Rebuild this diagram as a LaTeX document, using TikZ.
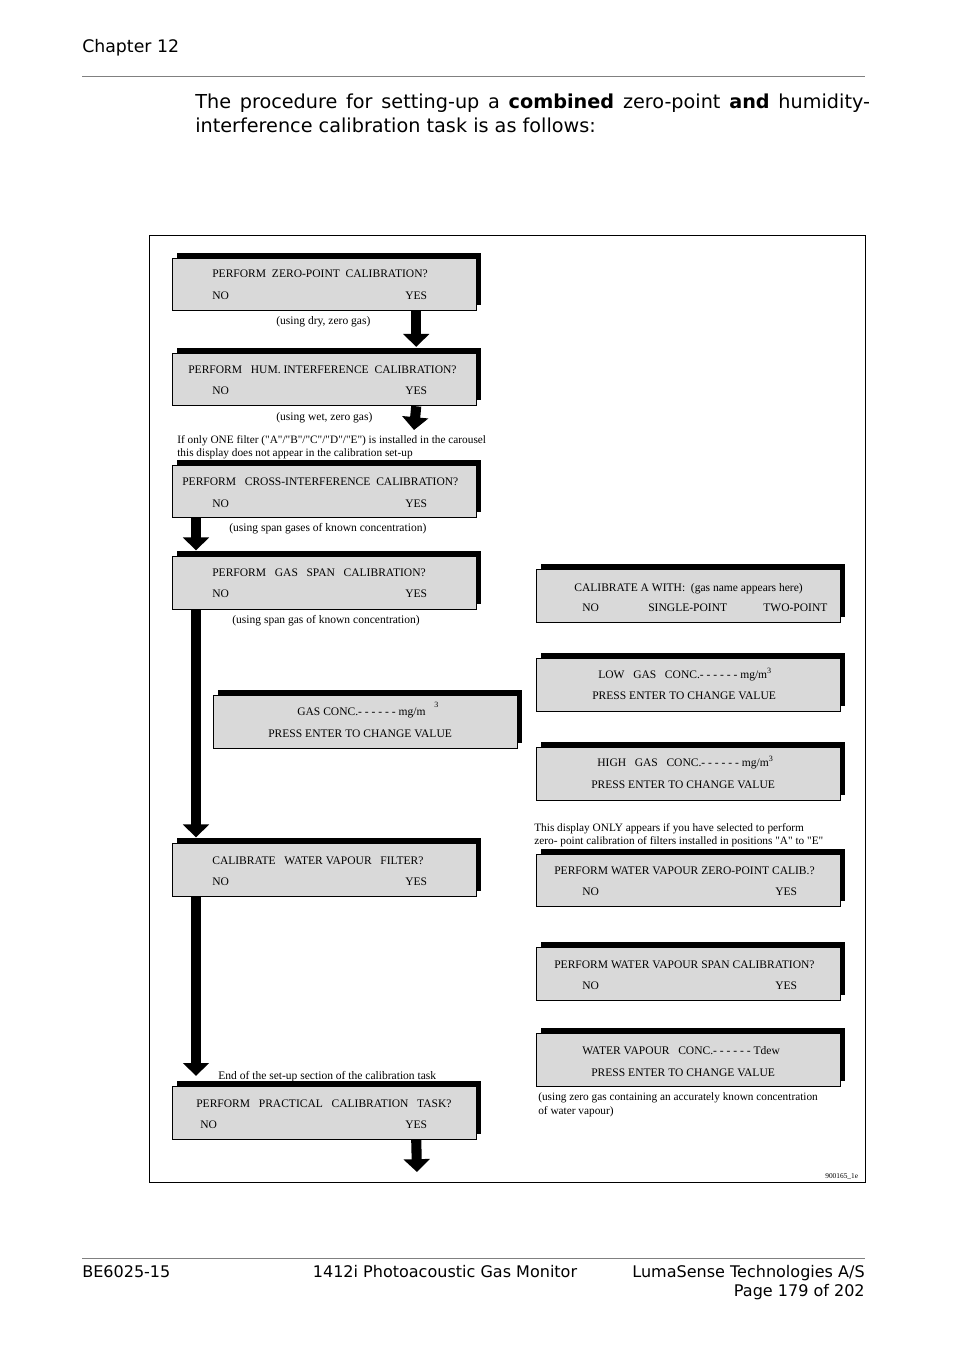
\documentclass[tikz,border=0pt]{standalone}
\usepackage{fontspec}
\setmainfont{DejaVu Sans}
\newfontfamily\dispfont{Liberation Serif}
\usetikzlibrary{arrows.meta,shadows}
\definecolor{dispgray}{RGB}{217,217,217}

\begin{document}
\begin{tikzpicture}[x=0.624pt,y=-0.624pt,
    dispbox/.style={draw,line width=0.6pt,fill=dispgray,inner sep=0pt,
        minimum width=189.7pt,minimum height=32.8pt,
        general shadow={fill=black,shadow xshift=3.1pt,shadow yshift=3.4pt}},
    disptext/.style={font=\dispfont\fontsize{7.2}{8.2}\selectfont,inner sep=0pt,anchor=base west,yshift=-0.5pt},
    notetext/.style={disptext,font=\dispfont\fontsize{7.05}{8.2}\selectfont,align=left,anchor=north west},
    bigarrow/.style={line width=6.3pt,-{Triangle[width=16pt,length=8pt]},shorten >=3.7pt},
    pagetext/.style={inner sep=0pt,anchor=base west}]
    \useasboundingbox (0,0) rectangle (954,1350);

    % page header and footer
    \node[pagetext,font=\fontsize{10.8}{13}\selectfont] (chap) at (82,53) {Chapter 12};
    \draw[gray,line width=0.6pt] (82,76)--(865,76);
    \node[pagetext,font=\fontsize{12}{15}\selectfont] (intro1) at (195,109)
        {\makebox[421pt][s]{The procedure for setting-up a \textbf{combined} zero-point \textbf{and} humidity-}};
    \node[pagetext,font=\fontsize{12}{15}\selectfont] (intro2) at (195,133) {interference calibration task is as follows:};
    \draw[gray,line width=0.6pt] (82,1258)--(865,1258);
    \node[pagetext,font=\fontsize{10}{12}\selectfont] (docno) at (82,1277) {BE6025-15};
    \node[pagetext,anchor=base,font=\fontsize{10}{12}\selectfont] (product) at (445,1277) {1412i Photoacoustic Gas Monitor};
    \node[pagetext,anchor=base east,font=\fontsize{10}{12}\selectfont] (company) at (865,1277) {LumaSense Technologies A/S};
    \node[pagetext,anchor=base east,font=\fontsize{10}{12}\selectfont] (pageno) at (865,1296) {Page 179 of 202};

    % frame
    \draw[line width=0.6pt] (149,235) rectangle (865,1182);

    % left column
    \node[dispbox] (b1) at (324,284.5) {};
    \node[disptext] at (212,277) {PERFORM~~ZERO-POINT~~CALIBRATION?};
    \node[disptext] (no1) at (212,299) {NO};
    \node[disptext] (yes1) at (405,299) {YES};
    \node[disptext] at (276,324) {(using dry, zero gas)};

    \node[dispbox] (b2) at (324,379.5) {};
    \node[disptext] at (188,373) {PERFORM~~~HUM. INTERFERENCE~~CALIBRATION?};
    \node[disptext] (no2) at (212,394) {NO};
    \node[disptext] (yes2) at (405,394) {YES};
    \node[disptext] at (276,420) {(using wet, zero gas)};
    \coordinate (end2) at (414,430);

    \node[notetext] at (177,434) {If only ONE filter ("A"/"B"/"C"/"D"/"E") is installed in the carousel\\this display does not appear in the calibration set-up};

    \node[dispbox] (b3) at (324,491.5) {};
    \node[disptext] at (182,485) {PERFORM~~~CROSS-INTERFERENCE~~CALIBRATION?};
    \node[disptext] (no3) at (212,507) {NO};
    \node[disptext] (yes3) at (405,507) {YES};
    \node[disptext] at (229,531) {(using span gases of known concentration)};

    \node[dispbox] (b4) at (324,583) {};
    \node[disptext] at (212,576) {PERFORM~~~GAS~~~SPAN~~~CALIBRATION?};
    \node[disptext] (no4) at (212,597) {NO};
    \node[disptext] (yes4) at (405,597) {YES};
    \node[disptext] at (232,623) {(using span gas of known concentration)};

    \node[dispbox] (b5) at (365.5,722) {};
    \node[disptext] at (297,715) {GAS CONC.- - - - - - mg/m};
    \node[disptext,font=\dispfont\fontsize{5}{6}\selectfont] at (434,707) {3};
    \node[disptext] at (268,737) {PRESS ENTER TO CHANGE VALUE};

    \node[dispbox] (b6) at (324,870) {};
    \node[disptext] at (212,864) {CALIBRATE~~~WATER VAPOUR~~~FILTER?};
    \node[disptext] (no6) at (212,885) {NO};
    \node[disptext] (yes6) at (405,885) {YES};

    \node[disptext] at (218,1079) {End of the set-up section of the calibration task};

    \node[dispbox] (b7) at (324,1113) {};
    \node[disptext] at (196,1107) {PERFORM~~~PRACTICAL~~~CALIBRATION~~~TASK?};
    \node[disptext] (no7) at (200,1128) {NO};
    \node[disptext] (yes7) at (405,1128) {YES};
    \coordinate (end7) at (417,1172);

    % right column
    \node[dispbox] (r1) at (688,596) {};
    \node[disptext] at (574,591) {CALIBRATE A WITH:~~(gas name appears here)};
    \node[disptext] at (582,611) {NO};
    \node[disptext] at (648,611) {SINGLE-POINT};
    \node[disptext] at (763,611) {TWO-POINT};

    \node[dispbox] (r2) at (688,685) {};
    \node[disptext] at (598,678) {LOW~~~GAS~~~CONC.- - - - - - mg/m\textsuperscript{3}};
    \node[disptext] at (592,699) {PRESS ENTER TO CHANGE VALUE};

    \node[dispbox] (r3) at (688,774) {};
    \node[disptext] at (597,766) {HIGH~~~GAS~~~CONC.- - - - - - mg/m\textsuperscript{3}};
    \node[disptext] at (591,788) {PRESS ENTER TO CHANGE VALUE};

    \node[notetext] at (534,822) {This display ONLY appears if you have selected to perform\\zero- point calibration of filters installed in positions "A" to "E"};

    \node[dispbox] (r4) at (688,880.5) {};
    \node[disptext] at (554,874) {PERFORM WATER VAPOUR ZERO-POINT CALIB.?};
    \node[disptext] at (582,895) {NO};
    \node[disptext] at (775,895) {YES};

    \node[dispbox] (r5) at (688,974) {};
    \node[disptext] at (554,968) {PERFORM WATER VAPOUR SPAN CALIBRATION?};
    \node[disptext] at (582,989) {NO};
    \node[disptext] at (775,989) {YES};

    \node[dispbox] (r6) at (688,1060) {};
    \node[disptext] at (582,1054) {WATER VAPOUR~~~CONC.- - - - - - Tdew};
    \node[disptext] at (591,1076) {PRESS ENTER TO CHANGE VALUE};
    \node[notetext] at (538,1092) {(using zero gas containing an accurately known concentration\\of water vapour)};

    \node[disptext,font=\dispfont\fontsize{4.6}{5}\selectfont] (figno) at (825,1178) {900165\_1e};

    % arrows
    \coordinate (lane) at (196,0);
    \draw[bigarrow] (b1.south -| yes1) -- (b2.north -| yes1);
    \draw[bigarrow,shorten >=0pt] (b2.south -| yes2) -- (end2);
    \draw[bigarrow] (b3.south -| lane) -- (b4.north -| lane);
    \draw[bigarrow] (b4.south -| lane) -- (b6.north -| lane);
    \draw[bigarrow,shorten >=6.5pt] (b6.south -| lane) -- (b7.north -| lane);
    \draw[bigarrow,shorten >=0pt] (b7.south -| yes7) -- (end7);
\end{tikzpicture}
\end{document}
